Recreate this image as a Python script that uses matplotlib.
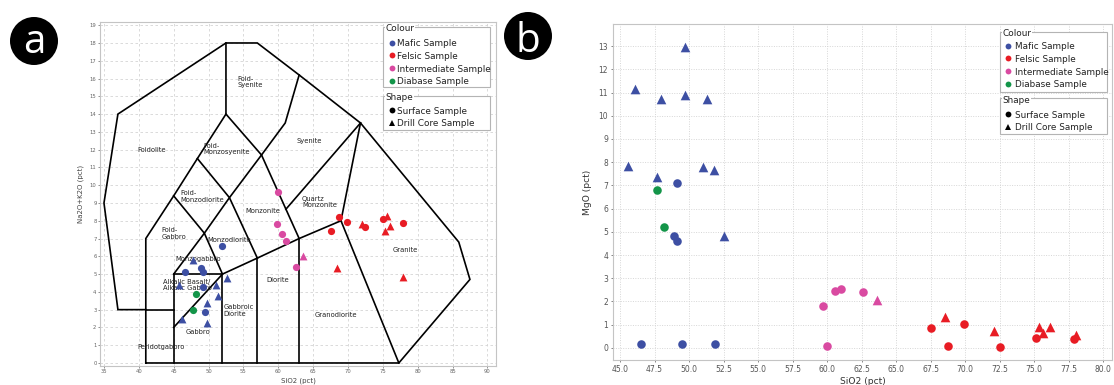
import matplotlib
matplotlib.use('Agg')
import matplotlib.pyplot as plt
from matplotlib.patches import Circle, Rectangle
from matplotlib.lines import Line2D
from matplotlib.ticker import MultipleLocator, FormatStrFormatter

W, H = 1114, 385

# ---------------- data ----------------
group_names = ['Mafic Sample', 'Felsic Sample', 'Intermediate Sample', 'Diabase Sample']
group_colors = ['#3d4fa3', '#e81c24', '#d94aa1', '#139549']
shape_names = ['Surface Sample', 'Drill Core Sample']

# Panel a : SiO2 vs Na2O+K2O
a_mafic_surf_x = [52.0, 46.6, 48.9, 49.2, 49.25, 49.5]
a_mafic_surf_y = [6.6, 5.1, 5.33, 5.12, 4.25, 2.85]
a_mafic_core_x = [47.8, 52.6, 45.7, 51.0, 51.4, 49.75, 46.2, 49.75]
a_mafic_core_y = [5.8, 4.76, 4.4, 4.4, 3.78, 3.36, 2.5, 2.25]
a_felsic_surf_x = [68.7, 69.9, 67.5, 72.5, 75.1, 77.85]
a_felsic_surf_y = [8.23, 7.91, 7.42, 7.67, 8.1, 7.89]
a_felsic_core_x = [71.97, 75.6, 76.1, 75.3, 68.5, 77.9]
a_felsic_core_y = [7.82, 8.27, 7.7, 7.44, 5.36, 4.85]
a_inter_surf_x = [60.0, 59.8, 60.6, 61.05, 62.6]
a_inter_surf_y = [9.63, 7.8, 7.26, 6.85, 5.42]
a_inter_core_x = [63.6]
a_inter_core_y = [6.02]
a_diab_surf_x = [48.2, 47.8]
a_diab_surf_y = [3.87, 3.0]

# Panel b : SiO2 vs MgO
b_mafic_surf_x = [49.15, 48.9, 49.1, 46.5, 49.5, 51.9]
b_mafic_surf_y = [7.1, 4.8, 4.6, 0.15, 0.17, 0.15]
b_mafic_core_x = [49.7, 46.1, 48.0, 49.7, 51.3, 45.6, 47.7, 51.0, 51.8, 52.55]
b_mafic_core_y = [12.95, 11.15, 10.7, 10.9, 10.7, 7.85, 7.35, 7.8, 7.65, 4.8]
b_diab_surf_x = [47.7, 48.2]
b_diab_surf_y = [6.8, 5.2]
b_inter_surf_x = [59.7, 60.0, 60.6, 61.0, 62.6]
b_inter_surf_y = [1.8, 0.1, 2.45, 2.55, 2.41]
b_inter_core_x = [63.6]
b_inter_core_y = [2.05]
b_felsic_surf_x = [67.55, 69.9, 68.75, 72.55, 75.1, 77.9]
b_felsic_surf_y = [0.87, 1.05, 0.07, 0.06, 0.43, 0.39]
b_felsic_core_x = [68.55, 72.05, 75.35, 76.15, 75.65, 78.0]
b_felsic_core_y = [1.35, 0.73, 0.89, 0.92, 0.66, 0.56]

# TAS (plutonic) field boundaries
tas_lines = [
    [(41, 0), (41, 3), (37, 3), (35, 9), (37, 14), (52.5, 18), (57, 18), (63, 16.2),
     (71.8, 13.5), (85.9, 6.8), (87.5, 4.7), (77.3, 0), (41, 0)],
    [(41, 3), (45, 3)],
    [(41, 3), (41, 7), (45, 9.4), (48.4, 11.5), (52.5, 14), (52.5, 18)],
    [(45, 0), (45, 5), (52, 5), (52, 0)],
    [(45, 2), (52, 5), (57, 5.9), (63, 7), (69, 8), (71.8, 13.5)],
    [(57, 0), (57, 5.9)],
    [(63, 0), (63, 7)],
    [(69, 8), (77.3, 0)],
    [(45, 5), (49.4, 7.3), (52, 5)],
    [(45, 9.4), (49.4, 7.3), (53, 9.3), (57, 5.9)],
    [(48.4, 11.5), (53, 9.3), (57.6, 11.7), (52.5, 14)],
    [(57.6, 11.7), (61, 13.5), (63, 16.2)],
    [(57.6, 11.7), (63, 7)],
    [(61.1, 8.65), (71.8, 13.5)],
]
tas_labels = [
    ('Foidolite', 41.9, 12.0, 'center'),
    ('Foid-\nSyenite', 54.2, 15.8, 'left'),
    ('Foid-\nMonzosyenite', 49.3, 12.05, 'left'),
    ('Foid-\nMonzodiorite', 45.9, 9.37, 'left'),
    ('Foid-\nGabbro', 43.2, 7.27, 'left'),
    ('Monzodiorite', 53.0, 6.9, 'center'),
    ('Monzogabbro', 48.5, 5.86, 'center'),
    ('Alkalic Basalt/\nAlkalic Gabbro', 43.4, 4.38, 'left'),
    ('Gabbroic\nDiorite', 52.1, 2.95, 'left'),
    ('Gabbro', 48.5, 1.77, 'center'),
    ('Peridotgabbro', 43.2, 0.92, 'center'),
    ('Monzonite', 57.8, 8.56, 'center'),
    ('Diorite', 59.9, 4.68, 'center'),
    ('Syenite', 64.5, 12.47, 'center'),
    ('Quartz\nMonzonite', 63.4, 9.05, 'left'),
    ('Granite', 78.2, 6.33, 'center'),
    ('Granodiorite', 68.3, 2.7, 'center'),
]

plt.rcParams['font.family'] = ['DejaVu Sans']
fig = plt.figure(figsize=(W / 100, H / 100), dpi=100)
fig.patch.set_facecolor('white')


def fpos(l, t, r, b):
    return [l / W, 1 - b / H, (r - l) / W, (b - t) / H]


def fp(x, y):
    return (x / W, 1 - y / H)


# ---------------- panel a ----------------
axa = fig.add_axes(fpos(100, 22, 496, 366))
axa.set_xlim(34.43, 91.24)
axa.set_ylim(-0.17, 19.18)
axa.xaxis.set_major_locator(MultipleLocator(5))
axa.yaxis.set_major_locator(MultipleLocator(1))
axa.grid(True, color='#d4d4d4', lw=0.6, ls=(0, (3, 3)))
axa.set_axisbelow(True)
for s in axa.spines.values():
    s.set_color('#c4c4c4')
    s.set_linewidth(0.8)
axa.tick_params(labelsize=3.8, colors='#666666', length=1.5, width=0.5, pad=1)
axa.set_xlabel('SiO2 (pct)', fontsize=5, color='#444444', labelpad=2)
axa.set_ylabel('Na2O+K2O (pct)', fontsize=5, color='#444444', labelpad=4)
for ln in tas_lines:
    axa.plot([p[0] for p in ln], [p[1] for p in ln], color='black', lw=1.2,
             solid_joinstyle='miter', zorder=2)
for txt, x, y, ha in tas_labels:
    axa.text(x, y, txt, fontsize=4.9, ha=ha, va='center', color='#222222',
             linespacing=1.1, zorder=3)

ms_c, ms_t = 27, 32
axa.scatter(a_mafic_surf_x, a_mafic_surf_y, s=ms_c, c=group_colors[0], marker='o', zorder=4, lw=0)
axa.scatter(a_mafic_core_x, a_mafic_core_y, s=ms_t, c=group_colors[0], marker='^', zorder=4, lw=0)
axa.scatter(a_felsic_surf_x, a_felsic_surf_y, s=ms_c, c=group_colors[1], marker='o', zorder=4, lw=0)
axa.scatter(a_felsic_core_x, a_felsic_core_y, s=ms_t, c=group_colors[1], marker='^', zorder=4, lw=0)
axa.scatter(a_inter_surf_x, a_inter_surf_y, s=ms_c, c=group_colors[2], marker='o', zorder=4, lw=0)
axa.scatter(a_inter_core_x, a_inter_core_y, s=ms_t, c=group_colors[2], marker='^', zorder=4, lw=0)
axa.scatter(a_diab_surf_x, a_diab_surf_y, s=ms_c, c=group_colors[3], marker='o', zorder=4, lw=0)

# ---------------- panel b ----------------
axb = fig.add_axes(fpos(613, 24, 1112, 360))
axb.set_xlim(44.49, 80.63)
axb.set_ylim(-0.52, 13.95)
axb.xaxis.set_major_locator(MultipleLocator(2.5))
axb.xaxis.set_major_formatter(FormatStrFormatter('%.1f'))
axb.yaxis.set_major_locator(MultipleLocator(1))
axb.grid(True, color='#d6d6d6', lw=0.7, ls=(0, (1, 1.5)))
axb.set_axisbelow(True)
for s in axb.spines.values():
    s.set_color('#c4c4c4')
    s.set_linewidth(0.8)
axb.tick_params(labelsize=5.5, colors='#555555', length=1.5, width=0.5, pad=2)
axb.set_xlabel('SiO2 (pct)', fontsize=6.6, color='#333333', labelpad=2)
axb.set_ylabel('MgO (pct)', fontsize=6.6, color='#333333', labelpad=5)

mb_c, mb_t = 38, 48
axb.scatter(b_mafic_surf_x, b_mafic_surf_y, s=mb_c, c=group_colors[0], marker='o', zorder=4, lw=0)
axb.scatter(b_mafic_core_x, b_mafic_core_y, s=mb_t, c=group_colors[0], marker='^', zorder=4, lw=0)
axb.scatter(b_felsic_surf_x, b_felsic_surf_y, s=mb_c, c=group_colors[1], marker='o', zorder=4, lw=0)
axb.scatter(b_felsic_core_x, b_felsic_core_y, s=mb_t, c=group_colors[1], marker='^', zorder=4, lw=0)
axb.scatter(b_inter_surf_x, b_inter_surf_y, s=mb_c, c=group_colors[2], marker='o', zorder=4, lw=0)
axb.scatter(b_inter_core_x, b_inter_core_y, s=mb_t, c=group_colors[2], marker='^', zorder=4, lw=0)
axb.scatter(b_diab_surf_x, b_diab_surf_y, s=mb_c, c=group_colors[3], marker='o', zorder=4, lw=0)


# ---------------- legends (titled boxes) ----------------
def legend_box(l, r, t, b, title, title_y, rows_y, labels, colors, markers, mx, tx):
    fig.add_artist(Rectangle(fp(l, b), (r - l) / W, (b - t) / H, transform=fig.transFigure,
                             fc='white', ec='#b4b4b4', lw=0.8, zorder=5))
    fig.text(*fp(l + 2.5, title_y), title, fontsize=6.4, color='#222222', ha='left', va='center',
             zorder=6, bbox=dict(fc='white', ec='none', pad=0.3))
    for yy, lab, col, mk in zip(rows_y, labels, colors, markers):
        fig.add_artist(Line2D([mx / W], [1 - yy / H], marker=mk, color=col, ms=4.2 if mk == 'o' else 4.4,
                              mew=0, ls='none', transform=fig.transFigure, zorder=6))
        fig.text(*fp(tx, yy), lab, fontsize=6.4, color='#222222', ha='left', va='center_baseline', zorder=6)


for (l, r, ct, cb, ctitle, crow0, st, sb, stitle, srow0, mx, tx) in [
        (383, 490, 27, 87, 28.5, 42.7, 96, 130, 97.5, 110, 392.3, 397.3),
        (1000, 1107, 32, 92, 33.3, 45.7, 98.5, 134.5, 100.5, 114, 1007.5, 1015)]:
    legend_box(l, r, ct, cb, 'Colour', ctitle, [crow0 + 12.7 * i for i in range(4)],
               group_names, group_colors, ['o'] * 4, mx, tx)
    legend_box(l, r, st, sb, 'Shape', stitle, [srow0 + 12.7 * i for i in range(2)],
               shape_names, ['black', 'black'], ['o', '^'], mx, tx)

# ---------------- panel badges ----------------
for cx, cy, letter, base in [(34, 41, 'a', 53), (528, 36, 'b', 52)]:
    fig.add_artist(Circle((cx / 100, (H - cy) / 100), 0.24, transform=fig.dpi_scale_trans,
                          fc='black', ec='none', zorder=7))
    fig.text(cx / W, 1 - base / H, letter, fontsize=29, color='white', ha='center', va='baseline',
             family=['Open Sans', 'DejaVu Sans'], zorder=8)

fig.savefig('out.png', dpi=100, facecolor='white')
